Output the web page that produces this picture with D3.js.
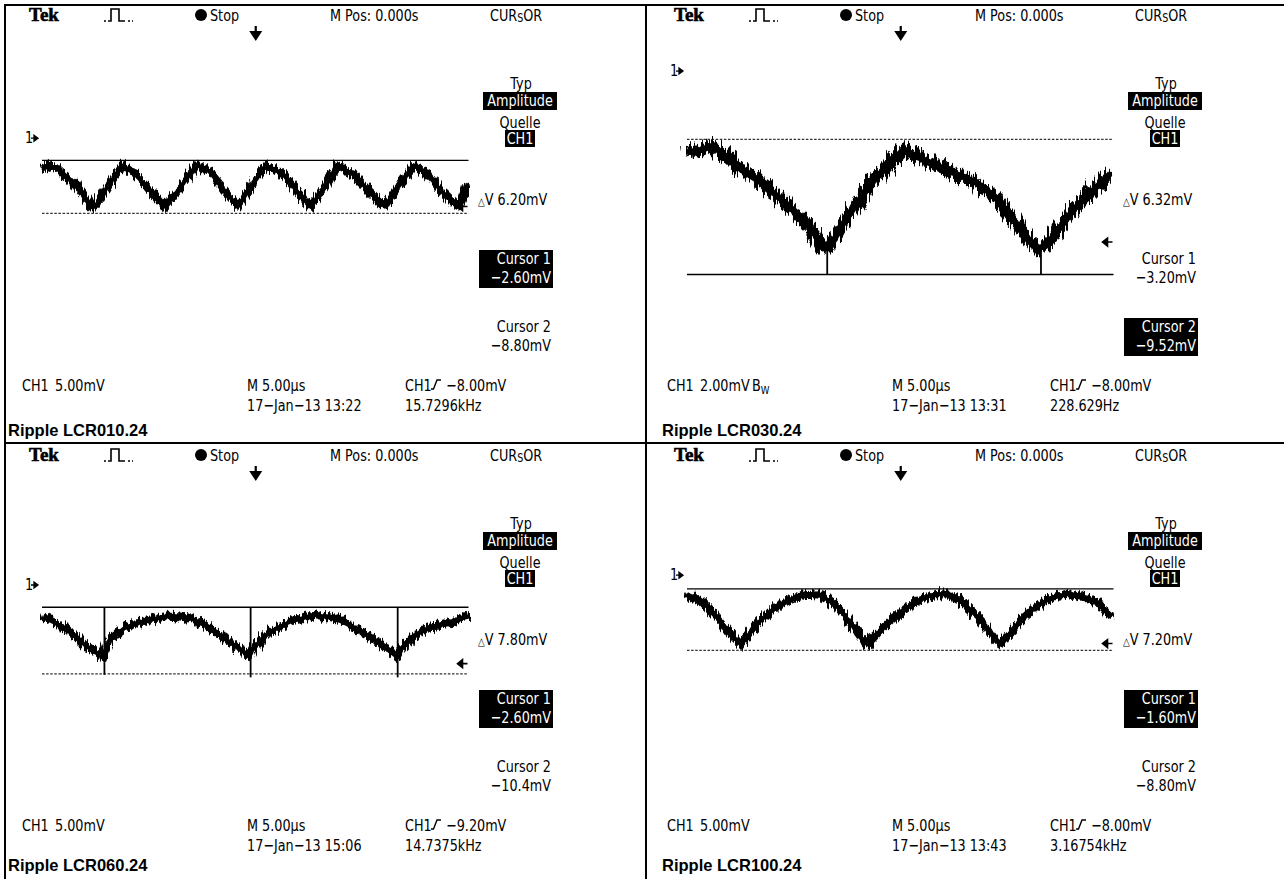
<!DOCTYPE html>
<html lang="de">
<head>
<meta charset="UTF-8">
<title>Ripple LCR</title>
<script src="https://d3js.org/d3.v7.min.js"></script>
<style>
    body { margin: 0; background: #fff; }
    svg { display: block; }
    .scope { font-family: "DejaVu Sans", "Liberation Sans", sans-serif; font-size: 16px; fill: #000; }
    .inv { fill: #fff; }
    .tek { font-family: "Liberation Serif", "DejaVu Serif", serif; font-weight: bold; font-size: 19px; stroke: #000; stroke-width: 0.6; }
    .caption { font-family: "Liberation Sans", Arial, sans-serif; font-weight: bold; font-size: 16.5px; }
</style>
</head>
<body>
<div id="chart"></div>
<script>
// ---- data ----
var captions = ["Ripple LCR010.24", "Ripple LCR030.24", "Ripple LCR060.24", "Ripple LCR100.24"];
var voltsPerDiv = [5, 2, 5, 5];            // mV / div
var groundDiv = [1.47, 3.04, 1.31, 1.54];  // channel 1 ground marker, divisions above centre
var bwLimit = [false, true, false, false];
var timePerDiv = [5, 5, 5, 5];             // µs / div
var triggerLevel = [-8.00, -8.00, -9.20, -8.00];
var dates = ["17\u2212Jan\u221213 13:22", "17\u2212Jan\u221213 13:31", "17\u2212Jan\u221213 15:06", "17\u2212Jan\u221213 13:43"];
var freqs = ["15.7296kHz", "228.629Hz", "14.7375kHz", "3.16754kHz"];
var cursor1 = [-2.60, -3.20, -2.60, -1.60];
var cursor2 = [-8.80, -9.52, -10.4, -8.80];
var activeCursor = [1, 2, 1, 1];

// traces: [time µs, mV]
var trace1 = [[0,-3.6],[0.7,-3.2],[1.9,-3.6],[3.9,-5.4],[5.8,-8.0],[6.3,-7.9],[7.7,-5.6],[9.4,-3.2],[10.9,-4.2],[12.6,-6.1],[14.4,-8.0],[16.1,-5.9],[18.1,-3.1],[19.6,-3.9],[21.4,-6.2],[22.9,-8.0],[24.5,-5.6],[26.2,-3.2],[28.2,-4.2],[29.9,-6.3],[31.4,-8.0],[33.1,-5.7],[34.5,-3.2],[36.6,-4.3],[38.3,-6.3],[40.1,-8.0],[41.6,-5.8],[43.5,-3.2],[45.0,-4.1],[46.7,-6.2],[48.5,-7.9],[49.1,-7.3],[49.8,-5.3]];
var trace2 = [[0,-3.8],[1.6,-3.7],[3.0,-3.5],[4.6,-4.0],[6.3,-4.6],[8.6,-5.2],[11.0,-6.0],[13.3,-6.8],[15.1,-7.7],[15.9,-8.3],[16.8,-8.2],[18.0,-7.3],[19.7,-6.3],[21.5,-5.3],[23.3,-4.5],[25.0,-3.8],[25.6,-3.7],[26.8,-4.0],[29.1,-4.4],[31.4,-4.8],[33.8,-5.2],[36.1,-5.9],[37.9,-6.8],[39.6,-7.7],[40.8,-8.3],[41.9,-8.2],[43.7,-7.3],[45.4,-6.4],[47.2,-5.7],[49.5,-4.8]];
var trace3 = [[0.1,-3.8],[1.5,-4.4],[3.3,-5.5],[5.0,-7.0],[6.5,-8.0],[7.1,-8.5],[7.5,-7.4],[7.9,-6.4],[9.7,-5.0],[12.0,-4.2],[15.0,-3.6],[17.3,-3.8],[19.6,-5.0],[22.0,-6.7],[23.8,-8.0],[24.3,-8.3],[24.7,-7.4],[26.6,-5.5],[29.0,-4.3],[31.9,-3.5],[34.2,-3.9],[36.6,-5.0],[38.9,-6.4],[41.0,-8.0],[41.5,-8.4],[42.0,-7.4],[44.2,-5.5],[46.5,-4.6],[49.9,-3.7]];
var trace4 = [[0,-2.2],[0.5,-2.5],[2.2,-3.5],[4.0,-5.5],[5.4,-7.2],[6.3,-8.1],[7.2,-7.0],[8.6,-5.3],[10.4,-3.7],[12.2,-2.8],[13.9,-2.3],[15.7,-2.4],[17.4,-3.5],[18.9,-5.3],[20.3,-7.2],[21.1,-8.1],[22.1,-7.0],[23.8,-5.3],[25.6,-3.9],[27.3,-2.8],[29.1,-2.2],[30.8,-2.3],[32.6,-3.5],[34.4,-5.3],[35.8,-7.2],[36.7,-8.1],[37.6,-7.0],[39.0,-5.3],[40.8,-3.7],[42.5,-2.7],[44.6,-2.2],[46.6,-2.6],[48.1,-3.2],[49.0,-4.3],[49.5,-5.0]];
var traces = [trace1, trace2, trace3, trace4];

// single-sample glitches: [time µs, top mV, bottom mV]
var spikes = [
    [],
    [[16.4, -8.2, -9.5], [41.4, -8.2, -9.5]],
    [[7.3, -2.6, -10.5], [24.4, -2.6, -10.8], [41.6, -2.6, -10.8]],
    []
];

// ---- layout ----
var width = 1284, height = 879;
var colX = [0, 645], rowY = [0, 440];
var screenLeft = 42, screenTop = 30, divPx = 42.75;
var traceWidth = [8, 12, 8, 8];
var roughness = [12, 20, 12, 12];
var narrow = 0.8;

var fmt = d3.format(".3r");

var svg = d3.select("#chart").append("svg")
    .attr("width", width)
    .attr("height", height);

svg.append("rect").attr("width", width).attr("height", height).attr("fill", "#fff");

var defs = svg.append("defs");
roughness.forEach(function(s, i) {
    var f = defs.append("filter")
        .attr("id", "rough" + i)
        .attr("filterUnits", "userSpaceOnUse")
        .attr("x", 0).attr("y", 0).attr("width", width).attr("height", height);
    f.append("feTurbulence")
        .attr("type", "fractalNoise")
        .attr("baseFrequency", "0.45 0.03")
        .attr("numOctaves", 2)
        .attr("seed", 3 + i)
        .attr("result", "noise");
    f.append("feDisplacementMap")
        .attr("in", "SourceGraphic")
        .attr("in2", "noise")
        .attr("scale", s)
        .attr("xChannelSelector", "R")
        .attr("yChannelSelector", "G");
});

// table grid
var grid = svg.append("g").attr("stroke", "#000").attr("stroke-width", 2);
grid.append("line").attr("x1", 5).attr("x2", width).attr("y1", 5).attr("y2", 5);
grid.append("line").attr("x1", 5).attr("x2", 5).attr("y1", 4).attr("y2", height);
grid.append("line").attr("x1", 646).attr("x2", 646).attr("y1", 4).attr("y2", height);
grid.append("line").attr("x1", 5).attr("x2", width).attr("y1", 443).attr("y2", 443);

// condensed scope lettering
function txt(g, x, y, s, anchor, cls) {
    return g.append("text")
        .attr("transform", "translate(" + x + "," + y + ") scale(" + narrow + ",1)")
        .attr("text-anchor", anchor || "start")
        .attr("class", cls || null)
        .text(s);
}

function invBox(g, x, y, w, h) {
    g.append("rect").attr("x", x).attr("y", y).attr("width", w).attr("height", h).attr("fill", "#000");
}

captions.forEach(function(cap, i) {
    var col = i % 2, row = Math.floor(i / 2);
    var g = svg.append("g")
        .attr("class", "scope")
        .attr("transform", "translate(" + colX[col] + "," + rowY[row] + ")");

    var vpd = voltsPerDiv[i];
    var x = d3.scaleLinear()
        .domain([0, 10 * timePerDiv[i]])
        .range([screenLeft, screenLeft + 10 * divPx]);
    var y = d3.scaleLinear()
        .domain([(4 - groundDiv[i]) * vpd, (-4 - groundDiv[i]) * vpd])
        .range([screenTop, screenTop + 8 * divPx]);

    // header
    g.append("text").attr("x", 29).attr("y", 21).attr("class", "tek").text("Tek");
    g.append("path")
        .attr("d", "M104,21h2M108,21h3V9h8V21h6M128,21h2M132,21h1")
        .attr("fill", "none").attr("stroke", "#000").attr("stroke-width", 1.6);
    g.append("circle").attr("cx", 201).attr("cy", 15).attr("r", 6).attr("fill", "#000");
    txt(g, 210, 21, "Stop");
    txt(g, 330, 21, "M Pos: 0.000s");
    var cur = txt(g, 490, 21, "CUR");
    cur.append("tspan").attr("font-size", 12).attr("dy", 1).text("S");
    cur.append("tspan").attr("dy", -1).text("OR");

    // trigger position marker
    var tx = x(5 * timePerDiv[i]);
    g.append("path")
        .attr("d", "M" + tx + ",26V33M" + (tx - 4.5) + ",32L" + (tx + 4.5) + ",32L" + tx + ",39Z")
        .attr("stroke", "#000").attr("stroke-width", 2.2).attr("fill", "#000");

    // menu
    txt(g, 521, 89, "Typ", "middle");
    invBox(g, 483, 92, 74, 18);
    txt(g, 520, 106, "Amplitude", "middle", "inv");
    txt(g, 520, 128, "Quelle", "middle");
    invBox(g, 505, 130, 30, 17);
    txt(g, 520, 144, "CH1", "middle", "inv");

    var dv = txt(g, 478, 205, "");
    dv.append("tspan").attr("font-size", 11).text("\u25B3");
    dv.append("tspan").text("V " + fmt(cursor1[i] - cursor2[i]) + "mV");

    [cursor1[i], cursor2[i]].forEach(function(v, k) {
        var top = k === 0 ? 250 : 318;
        var active = activeCursor[i] === k + 1;
        if (active) invBox(g, 479, top, 74, 38);
        txt(g, 551, top + 14, "Cursor " + (k + 1), "end", active ? "inv" : null);
        txt(g, 551, top + 33, fmt(v) + "mV", "end", active ? "inv" : null);
    });

    // ground marker
    var gy = y(0);
    txt(g, 25, gy + 5, "1");
    g.append("path")
        .attr("d", "M31," + gy + "H36M34," + (gy - 3) + "L38," + gy + "L34," + (gy + 3) + "Z")
        .attr("stroke", "#000").attr("stroke-width", 1.3).attr("fill", "#000");

    // trigger level marker
    var ty = y(triggerLevel[i]);
    var rx = x.range()[1];
    g.append("path")
        .attr("d", "M" + (rx - 11) + "," + ty + "H" + (rx - 2) + "M" + (rx - 7) + "," + (ty - 4) + "L" + (rx - 12) + "," + ty + "L" + (rx - 7) + "," + (ty + 4) + "Z")
        .attr("stroke", "#000").attr("stroke-width", 1.6).attr("fill", "#000");

    // cursor lines
    [cursor1[i], cursor2[i]].forEach(function(v, k) {
        var active = activeCursor[i] === k + 1;
        g.append("line")
            .attr("x1", x.range()[0]).attr("x2", rx - 1)
            .attr("y1", y(v)).attr("y2", y(v))
            .attr("stroke", active ? "#000" : "#333")
            .attr("stroke-width", active ? 1.4 : 1.2)
            .attr("stroke-dasharray", active ? null : "2.5,1.6");
    });

    // waveform
    var line = d3.line()
        .x(function(d) { return x(d[0]); })
        .y(function(d) { return y(d[1]); });
    g.append("path")
        .datum(traces[i])
        .attr("d", line)
        .attr("fill", "none").attr("stroke", "#000")
        .attr("stroke-width", traceWidth[i] / 2).attr("stroke-linejoin", "round");
    g.append("path")
        .datum(traces[i])
        .attr("d", line)
        .attr("fill", "none").attr("stroke", "#000")
        .attr("stroke-width", traceWidth[i]).attr("stroke-linejoin", "round")
        .attr("filter", "url(#rough" + i + ")");
    g.selectAll(".spike")
        .data(spikes[i])
        .enter().append("line")
        .attr("class", "spike")
        .attr("x1", function(d) { return x(d[0]); })
        .attr("x2", function(d) { return x(d[0]); })
        .attr("y1", function(d) { return y(d[1]); })
        .attr("y2", function(d) { return y(d[2]); })
        .attr("stroke", "#000").attr("stroke-width", 1.8);

    // footer
    txt(g, 22, 391, "CH1");
    var sc = txt(g, 55, 391, fmt(vpd) + "mV");
    if (bwLimit[i]) {
        sc.append("tspan").attr("dx", 3).text("B");
        sc.append("tspan").attr("font-size", 11).attr("dy", 3).text("W");
    }
    txt(g, 247, 391, "M " + fmt(timePerDiv[i]) + "\u00B5s");
    txt(g, 405, 391, "CH1");
    g.append("path")
        .attr("d", "M431,389h2.5L437,380h4")
        .attr("fill", "none").attr("stroke", "#000").attr("stroke-width", 1.4);
    txt(g, 446, 391, fmt(triggerLevel[i]) + "mV");
    txt(g, 247, 411, dates[i]);
    txt(g, 405, 411, freqs[i]);

    // caption
    g.append("text")
        .attr("x", col === 0 ? 8 : 17).attr("y", row === 0 ? 436 : 431)
        .attr("class", "caption")
        .text(cap);
});
</script>
</body>
</html>
